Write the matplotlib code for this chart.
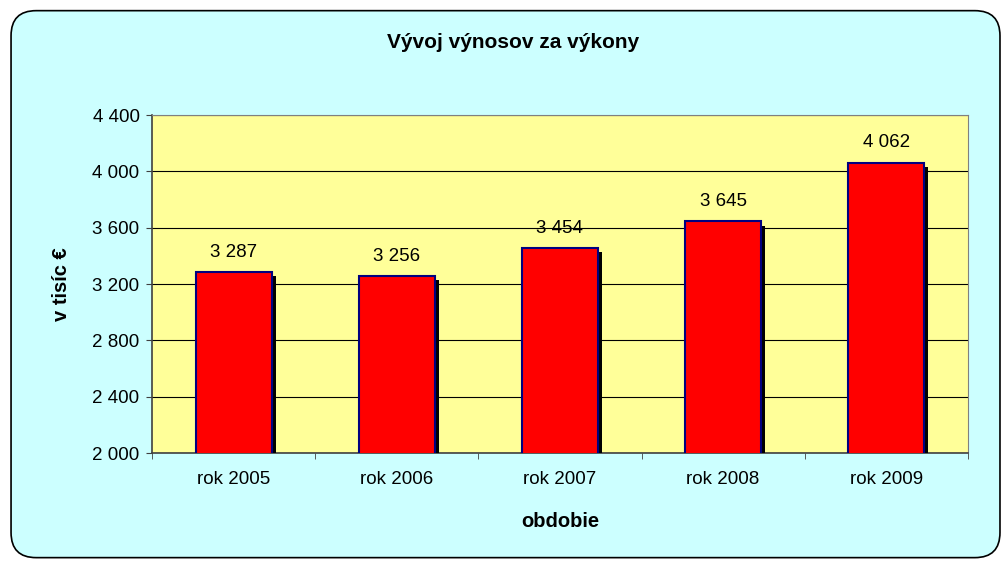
import matplotlib
matplotlib.use('Agg')
import matplotlib.pyplot as plt
import matplotlib.patheffects as pe
from matplotlib.patches import FancyBboxPatch
from matplotlib.ticker import FuncFormatter, FixedLocator

years = ['rok 2005', 'rok 2006', 'rok 2007', 'rok 2008', 'rok 2009']
values = [3287, 3256, 3454, 3645, 4062]
yticks = [2000, 2400, 2800, 3200, 3600, 4000, 4400]

plt.rcParams['font.family'] = ['Liberation Sans', 'DejaVu Sans']

def fmt(v, pos=None):
    return '{:,}'.format(int(v)).replace(',', ' ')

fig = plt.figure(figsize=(10.04, 5.61), dpi=100)
fig.patch.set_facecolor('white')

# rounded chart-area frame, kept behind the axes
frame = FancyBboxPatch((0.011, 0.006), 0.985, 0.975,
                       boxstyle='round,pad=0,rounding_size=0.025',
                       transform=fig.transFigure, facecolor='#CCFFFF',
                       edgecolor='black', linewidth=1.2,
                       mutation_aspect=1004 / 561, zorder=-10)
fig.patches.append(frame)

ax = fig.add_axes([0.1514, 0.1925, 0.8126, 0.6025])
ax.set_facecolor('#FFFF99')

x = range(len(years))
bars = ax.bar(x, values, width=0.465, color='#FF0000', edgecolor='#000080',
              linewidth=1.5, zorder=3)
for b in bars:
    b.set_path_effects([pe.SimplePatchShadow(offset=(3, -3), shadow_rgbFace='black', alpha=1.0),
                        pe.Normal()])

for i, v in enumerate(values):
    ax.annotate(fmt(v), (i, v), xytext=(0, 8), textcoords='offset points',
                ha='center', va='bottom', fontsize=13.5)

ax.set_xlim(-0.5, len(years) - 0.5)
ax.set_ylim(2000, 4400)
ax.set_yticks(yticks)
ax.yaxis.set_major_formatter(FuncFormatter(fmt))
ax.yaxis.grid(True, color='black', linewidth=0.8, zorder=0)
ax.set_axisbelow(True)

ax.set_xticks(list(x))
ax.set_xticklabels(years)
ax.xaxis.set_minor_locator(FixedLocator([i - 0.5 for i in range(len(years) + 1)]))
ax.tick_params(axis='x', which='major', length=0, pad=13, labelsize=13.5)
ax.tick_params(axis='x', which='minor', length=4, direction='out', color='#404040')
ax.tick_params(axis='y', length=4, direction='out', labelsize=13.5, pad=5, color='#404040')

for s in ['top', 'right']:
    ax.spines[s].set_color('#808080')
for s in ['left', 'bottom']:
    ax.spines[s].set_color('#404040')
    ax.spines[s].set_linewidth(1.2)

ax.set_xlabel('obdobie', fontsize=14.5, fontweight='bold', labelpad=17)
ax.set_ylabel('v tisíc €', fontsize=14.5, fontweight='bold', labelpad=15)
fig.text(0.511, 0.925, 'Vývoj výnosov za výkony', ha='center', va='center',
         fontsize=15, fontweight='bold')

fig.savefig('out.png', dpi=100)
